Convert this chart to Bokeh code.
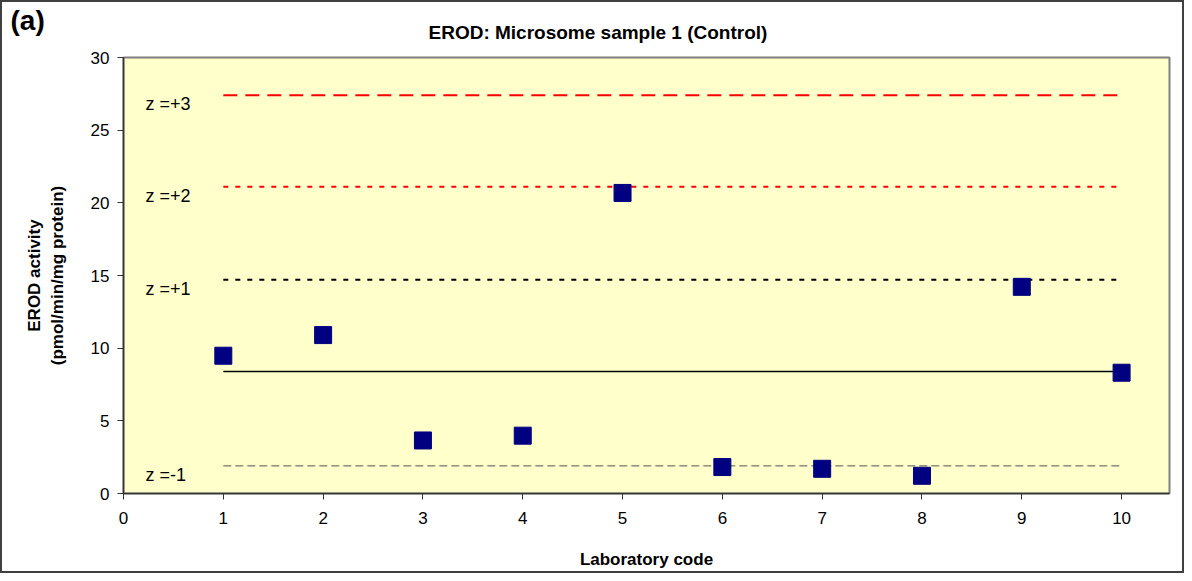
from bokeh.plotting import figure
from bokeh.models import Label, Range1d, FixedTicker, Title
from bokeh.embed import file_html
from bokeh.resources import INLINE

# Data
labs = [1, 2, 3, 4, 5, 6, 7, 8, 9, 10]
erod = [9.48, 10.9, 3.65, 3.98, 20.68, 1.82, 1.70, 1.22, 14.22, 8.31]

z_names = ["z =+3", "z =+2", "z =+1", "mean", "z =-1"]
z_levels = [27.4, 21.1, 14.7, 8.4, 1.9]
z_colors = ["#FF0000", "#FF0000", "#000000", "#000000", "#555555"]
z_dashes = ["14 8", "5 7", "5 7", "solid", "8 4"]
z_widths = [2, 2, 2, 1.5, 1]

x_ticks = [0, 1, 2, 3, 4, 5, 6, 7, 8, 9, 10]
y_ticks = [0, 5, 10, 15, 20, 25, 30]

FONT = "Liberation Sans"

p = figure(width=1184, height=573, output_backend="svg", toolbar_location=None,
           title=None,
           x_range=Range1d(0, 10.48), y_range=Range1d(0, 30),
           min_border_left=121, min_border_right=17, min_border_top=55,
           min_border_bottom=82)
p.background_fill_color = "#FFFFCC"
p.border_fill_color = "white"
p.outline_line_color = "#808080"
p.outline_line_width = 2
p.xgrid.visible = False
p.ygrid.visible = False
p.styles = {"border": "2px solid #404040"}

for ax in (p.xaxis, p.yaxis):
    ax.axis_line_color = "#333333"
    ax.axis_line_width = 1.5
    ax.major_tick_line_color = "#333333"
    ax.major_tick_out = 6
    ax.major_tick_in = 0
    ax.minor_tick_line_color = None
    ax.major_label_text_font = FONT
    ax.major_label_text_font_size = "17px"
    ax.major_label_text_color = "black"
    ax.axis_label_text_font = FONT
    ax.axis_label_text_font_style = "bold"
    ax.axis_label_text_font_size = "17px"
    ax.axis_label_text_color = "black"

p.xaxis.ticker = FixedTicker(ticks=x_ticks)
p.yaxis.ticker = FixedTicker(ticks=y_ticks)
p.xaxis.axis_label = "Laboratory code"
p.yaxis.axis_label = "EROD activity\n(pmol/min/mg protein)"
p.xaxis.major_label_standoff = 12
p.xaxis.axis_label_standoff = 23
p.yaxis.major_label_standoff = 8
p.yaxis.axis_label_standoff = 21

for name, lvl, col, dash, w in zip(z_names, z_levels, z_colors, z_dashes, z_widths):
    p.line([labs[0], labs[-1]], [lvl, lvl], line_color=col, line_width=w, line_dash=dash)
    if name != "mean":
        p.add_layout(Label(x=0.22, y=lvl - 0.6, text=name, text_font=FONT,
                           text_font_size="18px", text_baseline="middle",
                           text_color="black"))

p.scatter(labs, erod, marker="square", size=17, fill_color="#000080",
          line_color="#000080")

p.add_layout(Title(text="EROD: Microsome sample 1 (Control)", align="left", offset=305,
                   standoff=29, text_font=FONT, text_font_style="bold",
                   text_font_size="19px", text_color="black"), "above")
p.add_layout(Title(text="(a)", align="left", offset=-113, standoff=-60,
                   text_font=FONT, text_font_style="bold",
                   text_font_size="28px", text_color="black"), "above")

open("out.html", "w").write(file_html(p, INLINE))
